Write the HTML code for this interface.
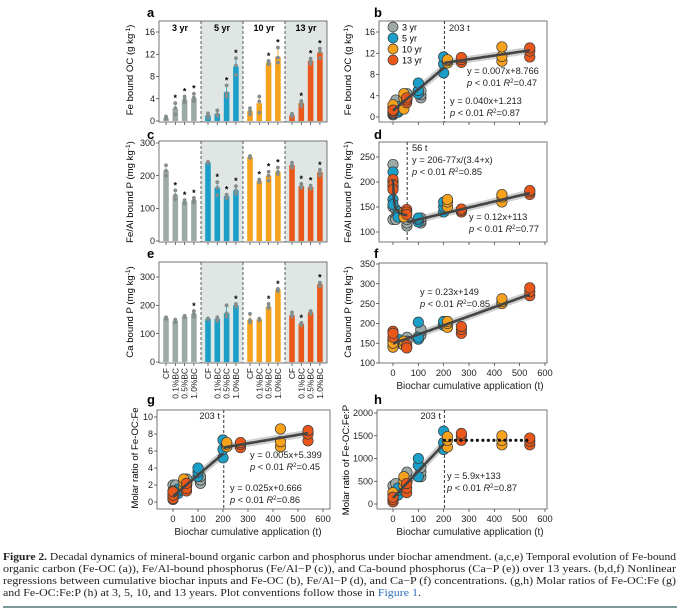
<!DOCTYPE html>
<html><head><meta charset="utf-8">
<style>
html,body{margin:0;padding:0;background:#fff;}
svg{display:block;font-family:"Liberation Sans",sans-serif;}
</style></head>
<body>
<svg id="fig" width="680" height="611" viewBox="0 0 680 611" xmlns="http://www.w3.org/2000/svg"></svg>
<script>
// ---------- data ----------
const years = ["3 yr","5 yr","10 yr","13 yr"];
const treatments = ["CF","0.1%BC","0.5%BC","1.0%BC"];
const yearColors = ["#9caba8","#1b9fc8","#f7a21d","#e9581a"];
// bar panels: means [year][treatment]
const feOCMeans = [[0.5,2.2,3.8,4.1],[1.0,1.3,5.2,9.8],[1.8,3.2,10.5,11.5],[1.0,3.2,10.8,12.3]];
const feOCReps = [[[0.4,0.6,0.8],[1.2,2.3,3.2],[3.3,3.9,4.4],[3.6,4.2,4.9]],[[0.6,1.0,1.4],[0.9,1.2,1.9],[4.4,5.0,6.4],[8.3,10.0,11.3]],[[1.2,1.8,2.3],[1.5,3.5,4.4],[10.2,10.6,10.8],[10.5,11.4,13.2]],[[0.8,1.1,1.3],[2.7,3.2,3.6],[10.3,10.8,11.2],[11.3,12.4,13.0]]];
const feOCStars = [[0,1,1,1],[0,0,1,1],[0,0,1,1],[0,1,1,1]];
const feAlPMeans = [[215,140,120,125],[240,163,137,155],[257,183,200,212],[232,168,165,210]];
const feAlPReps = [[[200,215,232],[128,140,155],[115,120,125],[118,125,132]],[[238,240,242],[140,163,180],[130,137,142],[145,155,168]],[[255,257,260],[180,183,188],[185,200,212],[205,212,225]],[[225,232,240],[163,168,175],[160,165,170],[200,210,218]]];
const feAlPStars = [[0,1,1,1],[0,1,1,1],[0,1,1,1],[0,1,1,1]];
const caPMeans = [[155,145,160,170],[152,152,172,200],[148,150,195,255],[165,135,175,275]];
const caPReps = [[[152,155,158],[140,145,150],[158,160,163],[160,170,180]],[[150,152,154],[145,152,158],[160,172,200],[195,200,205]],[[140,148,170],[147,150,153],[190,195,205],[250,255,258]],[[160,165,175],[130,135,138],[170,175,180],[268,275,280]]];
const caPStars = [[0,0,0,1],[0,0,0,1],[0,0,1,1],[0,1,0,1]];
// scatter panels: cumulative biochar (t) per year per treatment
const cumX = [[0,11,55,110],[0,20,100,200],[0,43,215,430],[0,54,270,540]];
const feOCScatter = feOCReps;
const feAlPScatter = [[[235,150,125],[145,130,125],[112,118,125],[118,122,128]],[[220,165,155],[140,135,130],[120,125,128],[140,150,160]],[[200,195,190],[140,135,130],[150,160,165],[160,170,175]],[[205,195,185],[145,140,135],[140,143,146],[175,180,183]]];
const caPScatter = [[[150,160,145],[155,150,160],[160,165,155],[170,180,185]],[[155,150,145],[150,155,160],[160,165,203],[195,200,205]],[[140,160,150],[150,145,155],[190,200,205],[250,255,262]],[[180,165,175],[140,145,138],[175,185,192],[270,280,290]]];
const ratioFeScatter = [[[0.5,1.0,2.0],[1.2,1.8,2.0],[2.0,2.4,2.7],[2.2,2.6,3.0]],[[0.3,0.6,0.9],[1.0,1.3,1.5],[3.0,3.5,4.0],[5.2,6.2,7.3]],[[0.7,1.0,1.3],[1.8,2.3,2.7],[6.5,6.8,7.0],[6.5,7.1,8.6]],[[0.4,0.8,1.2],[1.3,1.6,2.2],[6.4,6.8,7.0],[7.2,8.0,8.4]]];
const ratioFePScatter = [[[100,250,400],[300,450,200],[500,600,700],[600,700,800]],[[50,100,150],[200,300,350],[600,850,1000],[1200,1350,1600]],[[100,200,250],[400,500,600],[1250,1400,1480],[1300,1400,1500]],[[50,100,150],[250,350,450],[1400,1500,1550],[1300,1380,1450]]];
const ticksA = [0,4,8,12,16];
const ticksC = [0,100,200,300];
const ticksE = [0,100,200,300];
const ticksB = [0,4,8,12,16];
const ticksD = [100,150,200,250];
const ticksF = [100,150,200,250,300,350];
const ticksG = [0,2,4,6,8,10];
const ticksH = [0,500,1000,1500,2000];
const ticksX = [0,100,200,300,400,500,600];

// ---------- helpers ----------
const NS = "http://www.w3.org/2000/svg";
const svg = document.getElementById("fig");
function mk(tag, attrs, parent, text){
  const e = document.createElementNS(NS, tag);
  for (const k in attrs) e.setAttribute(k, attrs[k]);
  if (text !== undefined) e.textContent = text;
  (parent || svg).appendChild(e);
  return e;
}
function lin(d0,d1,r0,r1){ return v => r0 + (v-d0)*(r1-r0)/(d1-d0); }

function panelLetter(ch,x,y){
  const t = mk("text",{x:x,y:y,"font-size":13,"font-weight":"bold"},svg,ch);
  
  
}
function yTitle(txt,cx,cy,name){
  const t = mk("text",{x:cx,y:cy,"font-size":9.6,"text-anchor":"middle",transform:`rotate(-90 ${cx} ${cy})`},svg);
  
  
  t.innerHTML = txt;
}
function yAxis(g,ticks,ys,x0,fmt){
  ticks.forEach(v=>{
    const y = ys(v);
    mk("line",{x1:x0-3,x2:x0,y1:y,y2:y,stroke:"#333","stroke-width":0.7},g);
    const t = mk("text",{x:x0-4,y:y+3.2,"font-size":9,"text-anchor":"end",fill:"#222"},g,fmt?fmt(v):v);
    
    
  });
}
function xAxis(g,ticks,xs,yb,labels){
  ticks.forEach(v=>{
    const x = xs(v);
    mk("line",{x1:x,x2:x,y1:yb,y2:yb+3,stroke:"#333","stroke-width":0.7},g);
    if (labels){
      const t = mk("text",{x:x,y:yb+13,"font-size":9.3,"text-anchor":"middle",fill:"#222"},g,v);
      
      
    }
  });
}

// ---------- bar panels ----------
function barPanel(name,top,bottom,ymax,y0px,ytoppx,means,reps,stars,ticks,showYears,showCats){
  const g = mk("g",{});
  
  
  const X0=159, SEC=42;
  const ys = lin(0,ymax,y0px,ytoppx);
  [1,3].forEach(i=>{
    const r = mk("rect",{x:X0+i*SEC,y:top,width:SEC,height:bottom-top,fill:"#dfe6e4"},g);
    
    
  });
  means.forEach((row,yi)=>{
    row.forEach((m,ti)=>{
      const cx = X0+yi*SEC+7+ti*9.3;
      const b = mk("rect",{x:cx-2.8,y:ys(m),width:5.6,height:y0px-ys(m),fill:yearColors[yi]},g);
      
      
      const rv = reps[yi][ti];
      const hi = Math.max(...rv);
      mk("line",{x1:cx,x2:cx,y1:ys(m),y2:ys(hi),stroke:yearColors[yi],"stroke-width":0.8},g);
      rv.forEach(v=>{
        const d = mk("circle",{cx:cx,cy:ys(v),r:1.9,fill:"#848d8b"},g);
        
        
      });
      if (stars[yi][ti]){
        const s = mk("text",{x:cx,y:ys(hi)-2,"font-size":9,"text-anchor":"middle","font-weight":"bold"},g,"*");
        
        
      }
      mk("line",{x1:cx,x2:cx,y1:bottom,y2:bottom+3,stroke:"#333","stroke-width":0.7},g);
      if (showCats){
        const t = mk("text",{x:cx+3,y:bottom+5,"font-size":8.4,"text-anchor":"end",transform:`rotate(-90 ${cx+3} ${bottom+5})`,fill:"#222"},g,treatments[ti]);
        
        
      }
    });
    if (showYears){
      const t = mk("text",{x:X0+yi*SEC+SEC/2,y:top+10,"font-size":9,"font-weight":"bold","text-anchor":"middle"},g,years[yi]);
      
      
    }
  });
  [1,2,3].forEach(i=>{
    mk("line",{x1:X0+i*SEC,x2:X0+i*SEC,y1:top,y2:bottom,stroke:"#333","stroke-width":0.8,"stroke-dasharray":"3,2"},g);
  });
  mk("rect",{x:X0,y:top,width:SEC*4,height:bottom-top,fill:"none",stroke:"#555","stroke-width":0.8},g);
  yAxis(g,ticks,ys,X0);
}
barPanel("panel-a-fe-oc-bars",21,122,16,121,32,feOCMeans,feOCReps,feOCStars,ticksA,true,false);
barPanel("panel-c-feal-p-bars",141,242,300,241,143,feAlPMeans,feAlPReps,feAlPStars,ticksC,false,false);
barPanel("panel-e-ca-p-bars",262,363,300,362,277,caPMeans,caPReps,caPStars,ticksE,false,true);

// ---------- scatter panels ----------
function scatterPanel(name,bx0,bx1,top,bottom,xs,ys,data,yticks,xlabels,fits,annotations,dashX){
  const g = mk("g",{});
  
  
  mk("rect",{x:bx0,y:top,width:bx1-bx0,height:bottom-top,fill:"#fff",stroke:"#555","stroke-width":0.8},g);
  if (dashX!==undefined){
    mk("line",{x1:xs(dashX),x2:xs(dashX),y1:top,y2:bottom,stroke:"#333","stroke-width":1,"stroke-dasharray":"3,2"},g);
  }
  fits.forEach(f=>{
    let pts=[];
    for(let i=0;i<=40;i++){ const t=f.a+(f.b-f.a)*i/40; pts.push(xs(t).toFixed(1)+","+ys(f.fn(t)).toFixed(1)); }
    if(!f.dotted){
      mk("polyline",{points:pts.join(" "),fill:"none",stroke:"#b8bcbb","stroke-width":7,"stroke-opacity":0.7},g);
    }
  });
  data.forEach((yr,yi)=>{
    yr.forEach((rv,ti)=>{
      rv.forEach(v=>{
        const c = mk("circle",{cx:xs(cumX[yi][ti]),cy:ys(v),r:5.2,fill:yearColors[yi],stroke:"#3a3a3a","stroke-width":0.7},g);
        
        
      });
    });
  });
  fits.forEach(f=>{
    let pts=[];
    for(let i=0;i<=40;i++){ const t=f.a+(f.b-f.a)*i/40; pts.push(xs(t).toFixed(1)+","+ys(f.fn(t)).toFixed(1)); }
    const l = mk("polyline",{points:pts.join(" "),fill:"none",stroke:f.dotted?"#111":"#444","stroke-width":2.6},g);
    if(f.dotted){ l.setAttribute("stroke-dasharray","0,5.5"); l.setAttribute("stroke-linecap","round"); l.setAttribute("stroke-width",3.2); }
    
    
  });
  annotations.forEach(a=>{
    const t = mk("text",{x:a[0],y:a[1],"font-size":9.3,fill:"#222","text-anchor":a[3]||"start"},g);
    t.innerHTML = a[2];
    
    
  });
  yAxis(g,yticks,ys,bx0);
  xAxis(g,ticksX.filter(v=>xs(v)<=bx1+1),xs,bottom,xlabels);
  return g;
}
const xsR = lin(0,100,393,418.33);
const xsG = lin(0,100,173,198);
const pr = (r)=>`<tspan font-style="italic">p</tspan> &lt; 0.01  <tspan font-style="italic">R</tspan><tspan font-size="6" dy="-3">2</tspan><tspan dy="3">=${r}</tspan>`;

const gb = scatterPanel("panel-b-fe-oc-scatter",379,547,21,122,xsR,lin(0,16,117,32),feOCScatter,ticksB,false,
 [{a:0,b:203,fn:t=>0.040*t+1.213},{a:203,b:540,fn:t=>0.007*t+8.766}],
 [[449,31,"203 t"],[467,74,"y = 0.007x+8.766"],[467,86,pr("0.47")],[450,104,"y = 0.040x+1.213"],[450,116,pr("0.87")]],203);
years.forEach((y,i)=>{
  const c = mk("circle",{cx:393,cy:27+i*11,r:5,fill:yearColors[i],stroke:"#3a3a3a","stroke-width":0.7},gb);
  
  
  const t = mk("text",{x:402,y:30.5+i*11,"font-size":9},gb,y);
  
  
});

scatterPanel("panel-d-feal-p-scatter",379,547,142,242,xsR,lin(100,250,232,157),feAlPScatter,ticksD,false,
 [{a:0,b:56,fn:t=>206-77*t/(3.4+t)},{a:56,b:540,fn:t=>0.12*t+113}],
 [[412,151,"56 t"],[412,163,"y = 206-77x/(3.4+x)"],[412,175,pr("0.85").replace("0.01  ","0.01 ")],[469,220,"y = 0.12x+113"],[469,232,pr("0.77")]],56);

scatterPanel("panel-f-ca-p-scatter",379,547,263,363,xsR,lin(100,350,363,264),caPScatter,ticksF,true,
 [{a:0,b:540,fn:t=>0.23*t+149}],
 [[420,295,"y = 0.23x+149"],[420,307,pr("0.85")]]);

scatterPanel("panel-g-feoc-fe-ratio",157,330,410,509,xsG,lin(0,10,502,417),ratioFeScatter,ticksG,true,
 [{a:0,b:203,fn:t=>0.025*t+0.666},{a:203,b:540,fn:t=>0.005*t+5.399}],
 [[220,419,"203 t","end"],[250,458,"y = 0.005x+5.399"],[250,470,pr("0.45")],[230,491,"y = 0.025x+0.666"],[230,503,pr("0.86")]],203);

scatterPanel("panel-h-feoc-fep-ratio",377,547,410,509,xsR,lin(0,2000,504,413),ratioFePScatter,ticksH,true,
 [{a:0,b:203,fn:t=>5.9*t+133},{a:203,b:540,fn:t=>1400,dotted:true}],
 [[441,419,"203 t","end"],[447,479,"y = 5.9x+133"],[447,491,pr("0.87")]],203);

[["a",147,17],["b",374,17],["c",147,139],["d",374,139],["e",147,258],["f",374,258],["g",147,404],["h",374,404]].forEach(p=>panelLetter(p[0],p[1],p[2]));

yTitle('Fe bound OC (g kg<tspan font-size="6.5" dy="-3">-1</tspan><tspan dy="3">)</tspan>',133,70,"y-axis-title-a");
yTitle('Fe/Al bound P (mg kg<tspan font-size="6.5" dy="-3">-1</tspan><tspan dy="3">)</tspan>',133,192,"y-axis-title-c");
yTitle('Ca bound P (mg kg<tspan font-size="6.5" dy="-3">-1</tspan><tspan dy="3">)</tspan>',133,312,"y-axis-title-e");
yTitle('Molar ratio of Fe-OC:Fe',138,458,"y-axis-title-g");
yTitle('Fe bound OC (g kg<tspan font-size="6.5" dy="-3">-1</tspan><tspan dy="3">)</tspan>',351,70,"y-axis-title-b");
yTitle('Fe/Al bound P (mg kg<tspan font-size="6.5" dy="-3">-1</tspan><tspan dy="3">)</tspan>',351,192,"y-axis-title-d");
yTitle('Ca bound P (mg kg<tspan font-size="6.5" dy="-3">-1</tspan><tspan dy="3">)</tspan>',351,312,"y-axis-title-f");
yTitle('Molar ratio of Fe-OC:Fe:P',349,460,"y-axis-title-h");
[[470,389,"x-axis-title-f"],[248,535,"x-axis-title-g"],[470,535,"x-axis-title-h"]].forEach(a=>{
  const t = mk("text",{x:a[0],y:a[1],"font-size":10,"text-anchor":"middle",fill:"#222"},svg,"Biochar cumulative application (t)");
  
  
});

const cap = mk("g",{"font-family":"Liberation Serif, serif","font-size":10.8,fill:"#222"});


const capLines = [
 ['<tspan font-weight="bold">Figure 2.</tspan> Decadal dynamics of mineral-bound organic carbon and phosphorus under biochar amendment. (a,c,e) Temporal evolution of Fe-bound',673],
 ['organic carbon (Fe-OC (a)), Fe/Al-bound phosphorus (Fe/Al−P (c)), and Ca-bound phosphorus (Ca−P (e)) over 13 years. (b,d,f) Nonlinear',673],
 ['regressions between cumulative biochar inputs and Fe-OC (b), Fe/Al−P (d), and Ca−P (f) concentrations. (g,h) Molar ratios of Fe-OC:Fe (g)',673],
 ['and Fe-OC:Fe:P (h) at 3, 5, 10, and 13 years. Plot conventions follow those in <tspan fill="#2a6db5">Figure 1</tspan>.',418]
];
capLines.forEach((l,i)=>{
  const attrs = {x:3,y:560+i*12,textLength:l[1],lengthAdjust:"spacingAndGlyphs"};
  const t = mk("text",attrs,cap);
  t.innerHTML = l[0];
  
  
});
const rule = mk("line",{x1:3,x2:677,y1:607,y2:607,stroke:"#2f5e5c","stroke-width":1.2});


</script>
</body></html>
